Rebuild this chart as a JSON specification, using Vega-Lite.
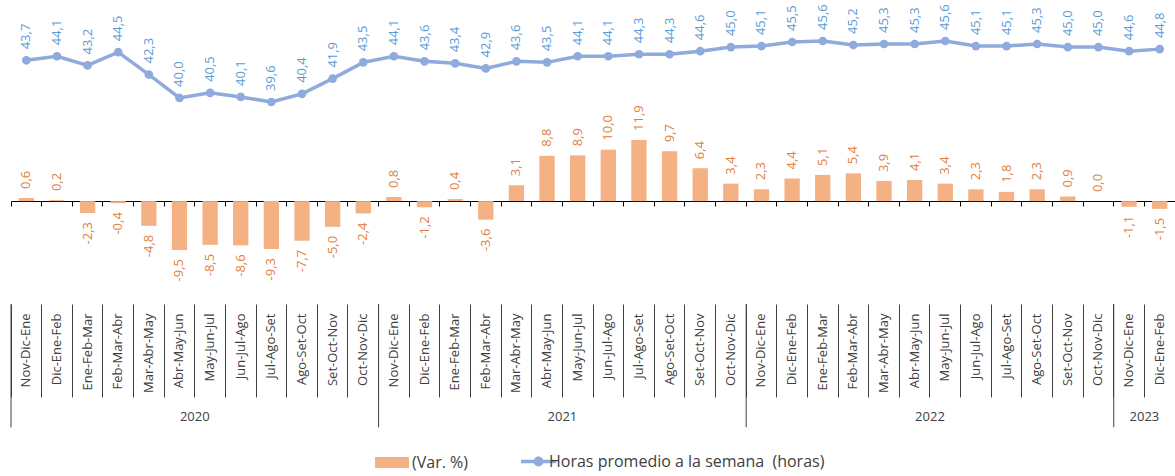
{
 "$schema": "https://vega.github.io/schema/vega-lite/v6.json",
 "width": 1164,
 "height": 304,
 "autosize": "none",
 "padding": {"left": 11, "top": 0, "right": 0, "bottom": 172},
 "background": "white",
 "config": {
  "view": {"stroke": null},
  "font": "Open Sans",
  "scale": {"bandPaddingInner": 0, "bandPaddingOuter": 0},
  "locale": {"number": {"decimal": ",", "thousands": ".", "grouping": [3], "currency": ["", ""], "minus": "-"}}
 },
 "datasets": {
  "main": [
   {"id": "00|Nov-Dic-Ene", "var": 0.6, "horas": 43.7},
   {"id": "01|Dic-Ene-Feb", "var": 0.2, "horas": 44.1},
   {"id": "02|Ene-Feb-Mar", "var": -2.3, "horas": 43.2},
   {"id": "03|Feb-Mar-Abr", "var": -0.4, "horas": 44.5},
   {"id": "04|Mar-Abr-May", "var": -4.8, "horas": 42.3},
   {"id": "05|Abr-May-Jun", "var": -9.5, "horas": 40.0},
   {"id": "06|May-Jun-Jul", "var": -8.5, "horas": 40.5},
   {"id": "07|Jun-Jul-Ago", "var": -8.6, "horas": 40.1},
   {"id": "08|Jul-Ago-Set", "var": -9.3, "horas": 39.6},
   {"id": "09|Ago-Set-Oct", "var": -7.7, "horas": 40.4},
   {"id": "10|Set-Oct-Nov", "var": -5.0, "horas": 41.9},
   {"id": "11|Oct-Nov-Dic", "var": -2.4, "horas": 43.5},
   {"id": "12|Nov-Dic-Ene", "var": 0.8, "horas": 44.1},
   {"id": "13|Dic-Ene-Feb", "var": -1.2, "horas": 43.6},
   {"id": "14|Ene-Feb-Mar", "var": 0.4, "horas": 43.4},
   {"id": "15|Feb-Mar-Abr", "var": -3.6, "horas": 42.9},
   {"id": "16|Mar-Abr-May", "var": 3.1, "horas": 43.6},
   {"id": "17|Abr-May-Jun", "var": 8.8, "horas": 43.5},
   {"id": "18|May-Jun-Jul", "var": 8.9, "horas": 44.1},
   {"id": "19|Jun-Jul-Ago", "var": 10.0, "horas": 44.1},
   {"id": "20|Jul-Ago-Set", "var": 11.9, "horas": 44.3},
   {"id": "21|Ago-Set-Oct", "var": 9.7, "horas": 44.3},
   {"id": "22|Set-Oct-Nov", "var": 6.4, "horas": 44.6},
   {"id": "23|Oct-Nov-Dic", "var": 3.4, "horas": 45.0},
   {"id": "24|Nov-Dic-Ene", "var": 2.3, "horas": 45.1},
   {"id": "25|Dic-Ene-Feb", "var": 4.4, "horas": 45.5},
   {"id": "26|Ene-Feb-Mar", "var": 5.1, "horas": 45.6},
   {"id": "27|Feb-Mar-Abr", "var": 5.4, "horas": 45.2},
   {"id": "28|Mar-Abr-May", "var": 3.9, "horas": 45.3},
   {"id": "29|Abr-May-Jun", "var": 4.1, "horas": 45.3},
   {"id": "30|May-Jun-Jul", "var": 3.4, "horas": 45.6},
   {"id": "31|Jun-Jul-Ago", "var": 2.3, "horas": 45.1},
   {"id": "32|Jul-Ago-Set", "var": 1.8, "horas": 45.1},
   {"id": "33|Ago-Set-Oct", "var": 2.3, "horas": 45.3},
   {"id": "34|Set-Oct-Nov", "var": 0.9, "horas": 45.0},
   {"id": "35|Oct-Nov-Dic", "var": 0.0, "horas": 45.0},
   {"id": "36|Nov-Dic-Ene", "var": -1.1, "horas": 44.6},
   {"id": "37|Dic-Ene-Feb", "var": -1.5, "horas": 44.8}
  ],
  "years": [
   {"year": "2020", "id": "00|Nov-Dic-Ene", "mid": "05|Abr-May-Jun"},
   {"year": "2021", "id": "12|Nov-Dic-Ene", "mid": "17|Abr-May-Jun"},
   {"year": "2022", "id": "24|Nov-Dic-Ene", "mid": "29|Abr-May-Jun"},
   {"year": "2023", "id": "36|Nov-Dic-Ene", "mid": "36|Nov-Dic-Ene"}
  ]
 },
 "layer": [
  {
   "data": {"name": "main"},
   "encoding": {
    "x": {"field": "id", "type": "nominal", "axis": {"orient": "bottom", "offset": -103, "labels": false, "ticks": true, "tickSize": 5, "bandPosition": 0, "domain": true, "domainColor": "#000000", "tickColor": "#000000", "title": null, "grid": false}},
    "y": {"field": "var", "type": "quantitative", "scale": {"domain": [-20, 39.1], "nice": false, "zero": false}, "axis": null}
   },
   "layer": [
    {
     "mark": {"type": "bar", "width": {"band": 0.5}, "color": "#F4B183"},
     "encoding": {
      "color": {
       "datum": "(Var. %)", "type": "nominal",
       "scale": {"domain": ["(Var. %)", "Horas promedio a la semana \u00a0(horas)"], "range": ["#F4B183", "#8FAADC"]},
       "legend": {
        "orient": "none", "legendX": 373, "legendY": 453, "direction": "horizontal", "title": null,
        "symbolSize": 1156, "labelFont": "Open Sans", "labelFontSize": 16, "labelColor": "#404040",
        "labelOffset": 12, "columnPadding": 46, "labelLimit": 400, "padding": 0,
        "encode": {"symbols": {"update": {
         "shape": {"signal": "datum.value === '(Var. %)' ? 'M-1,-0.33H1V0.33H-1Z' : 'M-0.47,0H1.59M0.76,0A0.2,0.2,0,1,1,0.36,0A0.2,0.2,0,1,1,0.76,0'"},
         "fill": {"signal": "datum.value === '(Var. %)' ? '#F4B183' : '#8FAADC'"},
         "stroke": {"signal": "datum.value === '(Var. %)' ? 'transparent' : '#8FAADC'"},
         "strokeWidth": {"signal": "datum.value === '(Var. %)' ? 0 : 3.3"},
         "size": {"value": 1156}
        }}}
       }
      }
     }
    },
    {
     "transform": [{"filter": "datum.var >= 0"}],
     "mark": {"type": "text", "angle": 270, "align": "left", "baseline": "middle", "dx": 9, "fontSize": 13, "color": "#E0803C"},
     "encoding": {
      "text": {"field": "var", "type": "quantitative", "format": ".1f"}
     }
    },
    {
     "transform": [{"filter": "datum.var < 0"}],
     "mark": {"type": "text", "angle": 270, "align": "right", "baseline": "middle", "dx": -9, "fontSize": 13, "color": "#E0803C"},
     "encoding": {
      "text": {"field": "var", "type": "quantitative", "format": ".1f"}
     }
    }
   ]
  },
  {
   "data": {"name": "main"},
   "encoding": {
    "x": {"field": "id", "type": "nominal", "axis": {"orient": "bottom", "offset": 0, "domain": false, "ticks": true, "tickSize": 93, "bandPosition": 0, "tickColor": "#404040", "labelAngle": 270, "labelPadding": -84, "labelFont": "Open Sans", "labelFontSize": 13, "labelColor": "#404040", "labelExpr": "split(datum.value, '|')[1]", "labelOverlap": false, "labelFlush": false, "labelBound": false, "title": null, "grid": false}},
    "y": {"field": "horas", "type": "quantitative", "scale": {"domain": [19.74, 49.63], "nice": false, "zero": false}, "axis": null}
   },
   "layer": [
    {
     "mark": {"type": "line", "strokeWidth": 3.5, "point": {"filled": true, "size": 75}},
     "encoding": {
      "color": {"datum": "Horas promedio a la semana \u00a0(horas)", "type": "nominal"}
     }
    },
    {
     "mark": {"type": "text", "angle": 270, "align": "left", "baseline": "middle", "dx": 11, "fontSize": 13, "color": "#5B9BD5"},
     "encoding": {
      "text": {"field": "horas", "type": "quantitative", "format": ".1f"}
     }
    }
   ]
  },
  {
   "data": {"name": "years"},
   "layer": [
    {
     "mark": {"type": "rule", "color": "#404040", "strokeWidth": 1},
     "encoding": {
      "x": {"field": "id", "type": "nominal", "bandPosition": 0, "axis": null},
      "y": {"datum": -20, "type": "quantitative", "scale": {"domain": [-20, 39.1], "nice": false, "zero": false}, "axis": null},
      "y2": {"datum": -43.97}
     }
    },
    {
     "mark": {"type": "text", "fontSize": 13, "color": "#404040", "baseline": "middle", "align": "center"},
     "encoding": {
      "x": {"field": "mid", "type": "nominal", "bandPosition": 1, "axis": null},
      "y": {"datum": -41.97, "type": "quantitative", "axis": null},
      "text": {"field": "year", "type": "nominal"}
     }
    }
   ]
  }
 ],
 "resolve": {"scale": {"y": "independent"}, "axis": {"x": "independent"}}
}
